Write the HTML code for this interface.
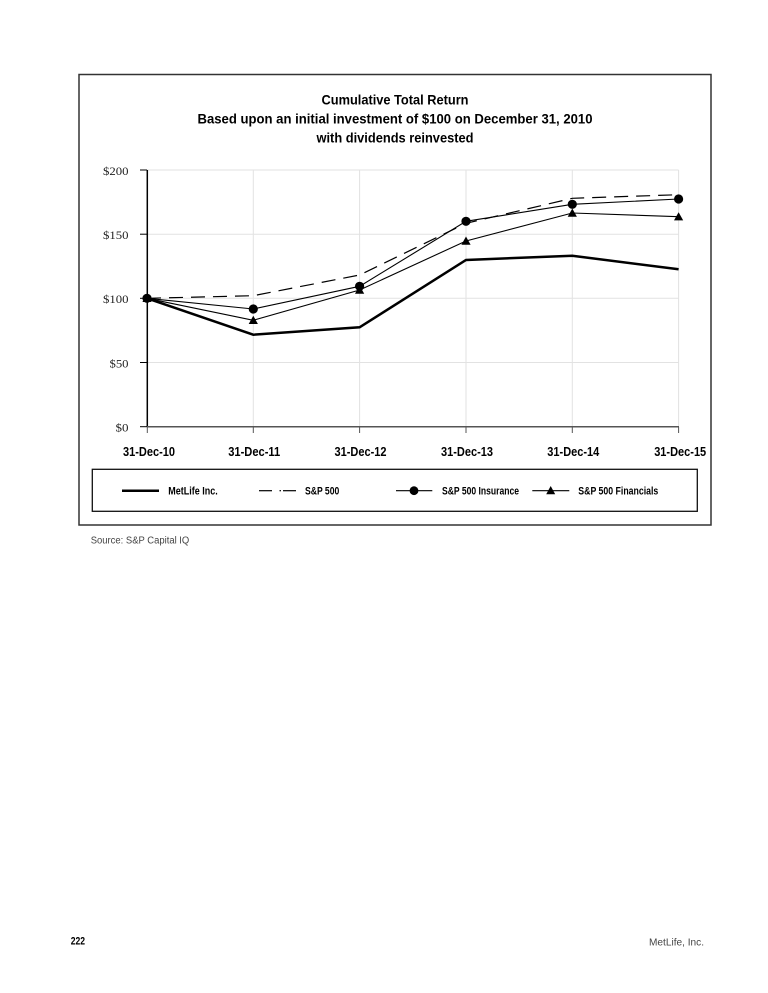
<!DOCTYPE html>
<html>
<head>
<meta charset="utf-8">
<style>
html,body{margin:0;padding:0;background:#fff;}
svg{display:block;}
</style>
</head>
<body>
<svg width="768" height="993" viewBox="0 0 768 993" xmlns="http://www.w3.org/2000/svg">
  <rect x="0" y="0" width="768" height="993" fill="#fff"/>
  <!-- outer box -->
  <rect x="79" y="74.5" width="632" height="450.5" fill="none" stroke="#333" stroke-width="1.5"/>

  <!-- title -->
  <g font-family="'Liberation Sans', sans-serif" font-weight="bold" font-size="14" fill="#000" text-anchor="middle">
    <text x="395" y="104.3" textLength="147" lengthAdjust="spacingAndGlyphs">Cumulative Total Return</text>
    <text x="395" y="123.3" textLength="395" lengthAdjust="spacingAndGlyphs">Based upon an initial investment of $100 on December 31, 2010</text>
    <text x="395" y="142.3" textLength="157" lengthAdjust="spacingAndGlyphs">with dividends reinvested</text>
  </g>

  <!-- gridlines -->
  <g stroke="#e2e2e2" stroke-width="1">
    <line x1="147" y1="170" x2="678.6" y2="170"/>
    <line x1="147" y1="234.2" x2="678.6" y2="234.2"/>
    <line x1="147" y1="298.3" x2="678.6" y2="298.3"/>
    <line x1="147" y1="362.5" x2="678.6" y2="362.5"/>
    <line x1="253.3" y1="170" x2="253.3" y2="426.7"/>
    <line x1="359.6" y1="170" x2="359.6" y2="426.7"/>
    <line x1="466" y1="170" x2="466" y2="426.7"/>
    <line x1="572.3" y1="170" x2="572.3" y2="426.7"/>
    <line x1="678.6" y1="170" x2="678.6" y2="426.7"/>
  </g>

  <!-- axes -->
  <line x1="147.3" y1="170" x2="147.3" y2="427" stroke="#000" stroke-width="1.5"/>
  <line x1="147" y1="426.7" x2="679" y2="426.7" stroke="#555" stroke-width="1.5"/>
  <!-- y ticks -->
  <g stroke="#000" stroke-width="1">
    <line x1="140" y1="170" x2="147" y2="170"/>
    <line x1="140" y1="234.2" x2="147" y2="234.2"/>
    <line x1="140" y1="298.3" x2="147" y2="298.3"/>
    <line x1="140" y1="362.5" x2="147" y2="362.5"/>
    <line x1="140" y1="426.7" x2="147" y2="426.7"/>
  </g>
  <!-- x ticks -->
  <g stroke="#555" stroke-width="1">
    <line x1="147.3" y1="427" x2="147.3" y2="433"/>
    <line x1="253.3" y1="427" x2="253.3" y2="433"/>
    <line x1="359.6" y1="427" x2="359.6" y2="433"/>
    <line x1="466" y1="427" x2="466" y2="433"/>
    <line x1="572.3" y1="427" x2="572.3" y2="433"/>
    <line x1="678.6" y1="427" x2="678.6" y2="433"/>
  </g>

  <!-- y labels -->
  <g font-family="'Liberation Serif', serif" font-size="12" fill="#222" text-anchor="end">
    <text x="128.5" y="174.8" textLength="25.5" lengthAdjust="spacingAndGlyphs">$200</text>
    <text x="128.5" y="239" textLength="25.5" lengthAdjust="spacingAndGlyphs">$150</text>
    <text x="128.5" y="303.1" textLength="25.5" lengthAdjust="spacingAndGlyphs">$100</text>
    <text x="128.5" y="367.3" textLength="19" lengthAdjust="spacingAndGlyphs">$50</text>
    <text x="128.5" y="431.5" textLength="13" lengthAdjust="spacingAndGlyphs">$0</text>
  </g>

  <!-- x labels -->
  <g font-family="'Liberation Sans', sans-serif" font-weight="bold" font-size="13" fill="#000" text-anchor="middle">
    <text x="149" y="456" textLength="52" lengthAdjust="spacingAndGlyphs">31-Dec-10</text>
    <text x="254.2" y="456" textLength="52" lengthAdjust="spacingAndGlyphs">31-Dec-11</text>
    <text x="360.5" y="456" textLength="52" lengthAdjust="spacingAndGlyphs">31-Dec-12</text>
    <text x="467" y="456" textLength="52" lengthAdjust="spacingAndGlyphs">31-Dec-13</text>
    <text x="573.3" y="456" textLength="52" lengthAdjust="spacingAndGlyphs">31-Dec-14</text>
    <text x="680.2" y="456" textLength="52" lengthAdjust="spacingAndGlyphs">31-Dec-15</text>
  </g>

  <!-- series -->
  <!-- S&P 500 dashed -->
  <polyline fill="none" stroke="#000" stroke-width="1.2" stroke-dasharray="14 8"
    points="147,298.3 253.3,295.7 359.6,275 466,223.3 572.3,198.3 678.6,194.7"/>
  <!-- Financials -->
  <polyline fill="none" stroke="#000" stroke-width="1.1"
    points="147,298.3 253.3,320.3 359.6,290 466,241 572.3,213 678.6,216.7"/>
  <!-- Insurance -->
  <polyline fill="none" stroke="#000" stroke-width="1.1"
    points="147,298.3 253.3,309 359.6,286.3 466,221.3 572.3,204.3 678.6,199"/>
  <!-- MetLife -->
  <polyline fill="none" stroke="#000" stroke-width="2.5" stroke-linejoin="miter"
    points="147,298.3 253.3,334.7 359.6,327.3 466,260 572.3,255.7 678.6,269.3"/>

  <!-- triangles -->
  <g fill="#000">
    <polygon points="147,293.8 151.6,302 142.4,302"/>
    <polygon points="253.3,315.8 257.9,324 248.7,324"/>
    <polygon points="359.6,285.5 364.2,293.7 355,293.7"/>
    <polygon points="466,236.5 470.6,244.7 461.4,244.7"/>
    <polygon points="572.3,208.5 576.9,216.7 567.7,216.7"/>
    <polygon points="678.6,212.2 683.2,220.4 674,220.4"/>
  </g>
  <!-- circles -->
  <g fill="#000">
    <circle cx="147" cy="298.3" r="4.6"/>
    <circle cx="253.3" cy="309" r="4.6"/>
    <circle cx="359.6" cy="286.3" r="4.6"/>
    <circle cx="466" cy="221.3" r="4.6"/>
    <circle cx="572.3" cy="204.3" r="4.6"/>
    <circle cx="678.6" cy="199" r="4.6"/>
  </g>

  <!-- legend -->
  <rect x="92.3" y="469.3" width="605" height="42" fill="none" stroke="#111" stroke-width="1.3"/>
  <line x1="122" y1="490.7" x2="159" y2="490.7" stroke="#000" stroke-width="2.5"/>
  <line x1="259" y1="490.7" x2="272" y2="490.7" stroke="#000" stroke-width="1.2"/>
  <line x1="279.5" y1="490.7" x2="281" y2="490.7" stroke="#000" stroke-width="1.2"/>
  <line x1="283" y1="490.7" x2="296" y2="490.7" stroke="#000" stroke-width="1.2"/>
  <line x1="396" y1="490.7" x2="432.3" y2="490.7" stroke="#000" stroke-width="1.2"/>
  <circle cx="414" cy="490.7" r="4.4" fill="#000"/>
  <line x1="532.3" y1="490.7" x2="569.3" y2="490.7" stroke="#000" stroke-width="1.2"/>
  <polygon points="550.7,486 555.2,494.3 546.2,494.3" fill="#000"/>
  <g font-family="'Liberation Sans', sans-serif" font-weight="bold" font-size="11" fill="#000">
    <text x="168.3" y="494.7" textLength="49.4" lengthAdjust="spacingAndGlyphs">MetLife Inc.</text>
    <text x="305" y="494.7" textLength="34.3" lengthAdjust="spacingAndGlyphs">S&amp;P 500</text>
    <text x="442" y="494.7" textLength="77" lengthAdjust="spacingAndGlyphs">S&amp;P 500 Insurance</text>
    <text x="578.3" y="494.7" textLength="80" lengthAdjust="spacingAndGlyphs">S&amp;P 500 Financials</text>
  </g>

  <!-- source -->
  <text x="90.7" y="543.5" font-family="'Liberation Sans', sans-serif" font-size="10" fill="#444" textLength="98.6" lengthAdjust="spacingAndGlyphs">Source: S&amp;P Capital IQ</text>

  <!-- footer -->
  <text x="70.7" y="944.5" font-family="'Liberation Sans', sans-serif" font-weight="bold" font-size="11" fill="#000" textLength="14.3" lengthAdjust="spacingAndGlyphs">222</text>
  <text x="649" y="945.5" font-family="'Liberation Sans', sans-serif" font-size="10" fill="#444" textLength="55" lengthAdjust="spacingAndGlyphs">MetLife, Inc.</text>
</svg>
</body>
</html>
